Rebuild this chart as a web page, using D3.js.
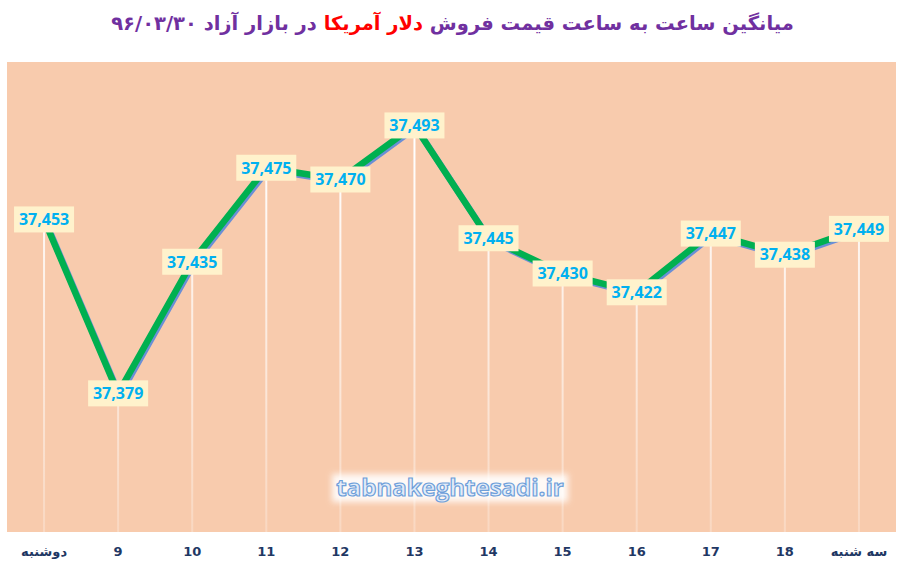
<!DOCTYPE html>
<html>
<head>
<meta charset="utf-8">
<script src="https://cdn.jsdelivr.net/npm/d3@7"></script>
<style>
  body { margin: 0; background: #fff; }
  #wrap { position: relative; width: 905px; height: 568px; }
  #title {
    position: absolute; left: 0; top: 12px; width: 905px;
    text-align: center; direction: rtl;
    font-family: "DejaVu Sans", sans-serif; font-weight: bold;
    font-size: 19.5px; color: #7030A0;
  }
  #title .red { color: #FF0000; }
</style>
</head>
<body>
<div id="wrap"></div>
<script>
// hours of the day, first and last are the day names
const hours = ["دوشنبه", "9", "10", "11", "12", "13", "14", "15", "16", "17", "18", "سه شنبه"];
const prices = [37453, 37379, 37435, 37475, 37470, 37493, 37445, 37430, 37422, 37447, 37438, 37449];
const yDomain = [37320, 37520];

const width = 905, height = 568;
const plot = { left: 7, right: 896, top: 62, bottom: 532 };

const wrap = d3.select("#wrap");

// Title (html so the rtl text with the red part is laid out right)
const title = wrap.append("div").attr("id", "title");
title.append("span").text("میانگین ساعت به ساعت قیمت فروش ");
title.append("span").attr("class", "red").text("دلار آمریکا");
title.append("span").text(" در بازار آزاد ۹۶/۰۳/۳۰");

const svg = wrap.append("svg")
    .attr("width", width)
    .attr("height", height)
    .style("position", "absolute")
    .style("left", 0).style("top", 0);

const defs = svg.append("defs");
const grad = defs.append("linearGradient")
    .attr("id", "dropFade")
    .attr("gradientUnits", "userSpaceOnUse")
    .attr("x1", 0).attr("x2", 0)
    .attr("y1", 150).attr("y2", plot.bottom);
grad.append("stop").attr("offset", "0%").attr("stop-color", "#fff").attr("stop-opacity", 1);
grad.append("stop").attr("offset", "100%").attr("stop-color", "#fff").attr("stop-opacity", 0.25);

const glow = defs.append("filter").attr("id", "glow")
    .attr("x", "-10%").attr("y", "-40%").attr("width", "120%").attr("height", "180%");
glow.append("feGaussianBlur").attr("stdDeviation", 3);

// Scales
const x = d3.scaleBand()
    .domain(hours)
    .range([plot.left, plot.right])
    .padding(0);

const y = d3.scaleLinear()
    .domain(yDomain)
    .range([plot.bottom, plot.top]);

const cx = d => x(d) + x.bandwidth() / 2;

// Plot background
svg.append("rect")
    .attr("x", plot.left)
    .attr("y", plot.top)
    .attr("width", plot.right - plot.left)
    .attr("height", plot.bottom - plot.top)
    .attr("fill", "#F8CBAD");

const data = hours.map((h, i) => ({ hour: h, value: prices[i] }));

// Drop lines
svg.selectAll("line.drop")
    .data(data)
    .enter()
    .append("line")
    .attr("class", "drop")
    .attr("x1", d => cx(d.hour))
    .attr("x2", d => cx(d.hour))
    .attr("y1", d => y(d.value))
    .attr("y2", plot.bottom)
    .attr("stroke", "url(#dropFade)")
    .attr("stroke-width", 2);

// Watermark
const wm = svg.append("g").attr("transform", `translate(450,488)`);
wm.append("rect")
    .attr("x", -118).attr("y", -14)
    .attr("width", 236).attr("height", 28)
    .attr("fill", "#fff")
    .attr("opacity", 0.9)
    .attr("filter", "url(#glow)");
wm.append("text")
    .attr("text-anchor", "middle")
    .attr("dy", "0.35em")
    .attr("font-family", "'Open Sans', sans-serif")
    .attr("font-size", 24)
    .attr("font-weight", "bold")
    .attr("fill", "#E3ECF8")
    .attr("stroke", "#6E9FDA")
    .attr("stroke-width", 1.2)
    .text("tabnakeghtesadi.ir");

// Line with shadow
const line = d3.line()
    .x(d => cx(d.hour))
    .y(d => y(d.value));

svg.append("path")
    .datum(data)
    .attr("fill", "none")
    .attr("stroke", "#6A8FD6")
    .attr("stroke-width", 6.5)
    .attr("transform", "translate(1.5,2)")
    .attr("d", line);

svg.append("path")
    .datum(data)
    .attr("fill", "none")
    .attr("stroke", "#00B050")
    .attr("stroke-width", 6.5)
    .attr("d", line);

// Value labels
const fmt = d3.format(",");
const labels = svg.selectAll("g.label")
    .data(data)
    .enter()
    .append("g")
    .attr("class", "label")
    .attr("transform", d => `translate(${cx(d.hour)},${y(d.value)})`);

labels.append("rect")
    .attr("x", -30).attr("y", -13)
    .attr("width", 60).attr("height", 26)
    .attr("fill", "#FFF2CC");

labels.append("text")
    .attr("text-anchor", "middle")
    .attr("dy", "0.36em")
    .attr("font-family", "'Open Sans', sans-serif")
    .attr("font-weight", "bold")
    .attr("font-size", 16)
    .attr("fill", "#00B0F0")
    .text(d => fmt(d.value));

// X axis labels
const xAxis = svg.append("g")
    .attr("transform", `translate(0,${plot.bottom})`)
    .call(d3.axisBottom(x).tickSize(0).tickPadding(15));
xAxis.select(".domain").remove();
xAxis.selectAll("text")
    .attr("font-family", "'DejaVu Sans', sans-serif")
    .attr("font-weight", "bold")
    .attr("font-size", 13)
    .attr("fill", "#1F3864");
</script>
</body>
</html>
